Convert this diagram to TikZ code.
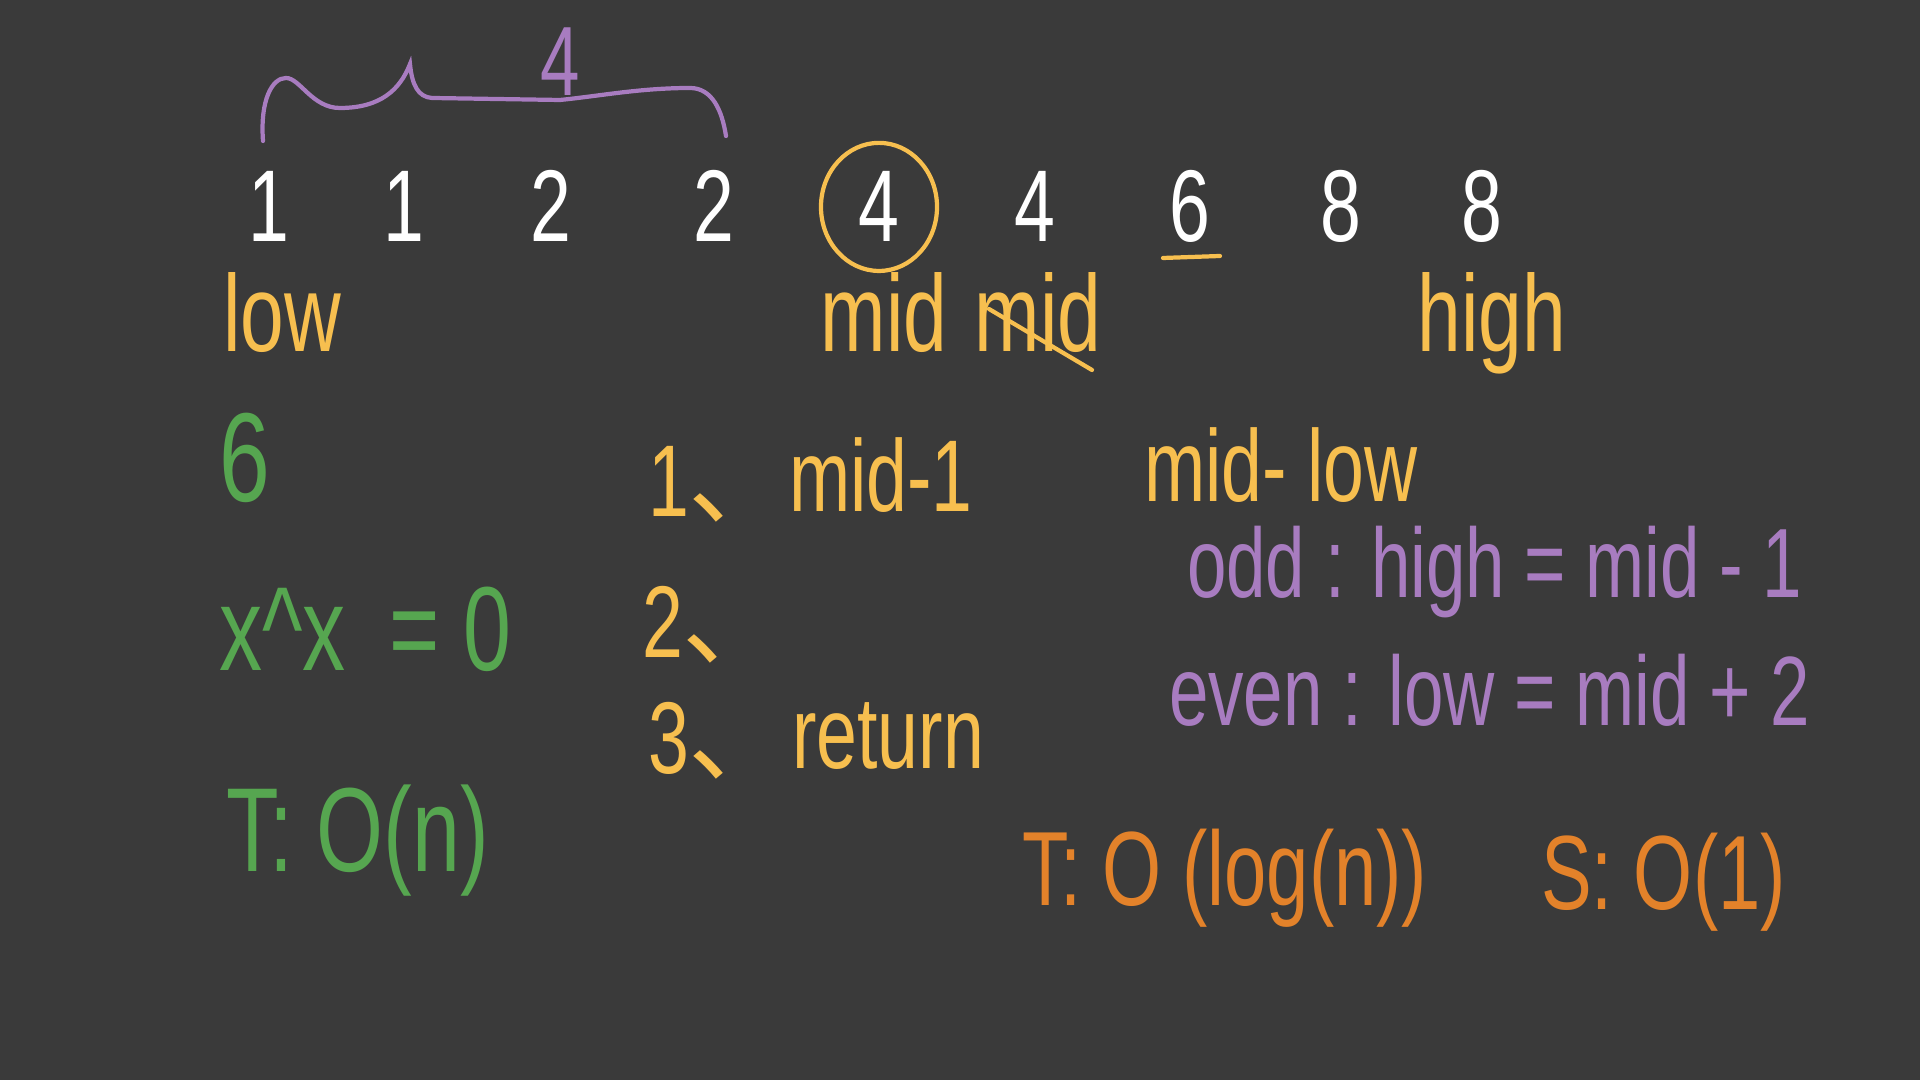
\documentclass[tikz,border=0pt]{standalone}
\usepackage{fontspec}
\setmainfont{Liberation Sans}[FakeStretch=0.72]
\newfontfamily\cjk{Noto Sans CJK SC}
\usetikzlibrary{calc}

\definecolor{board}{HTML}{3A3A3A}
\definecolor{ylw}{HTML}{F7BF4F}
\definecolor{purp}{HTML}{A87CC0}
\definecolor{grn}{HTML}{56A650}
\definecolor{org}{HTML}{E3822A}

\newcommand{\fs}[1]{\fontsize{#1}{#1}\selectfont}

\begin{document}
\begin{tikzpicture}[
    x=0.01cm, y=-0.01cm,
    line width=1.2pt, line cap=round,
    every node/.style={inner sep=0pt},
    numtxt/.style={text=white, font=\fs{29}, anchor=base},
    ptr/.style={text=ylw, font=\fs{31}, anchor=base},
    note/.style={font=\fs{29}, anchor=base west}
]

    % Board
    \fill[board] (0,0) rectangle (1920,1080);

    % Array
    \foreach \v [count=\i] in {1,1,2,2,4,4,6,8,8} {
        \pgfmathsetmacro{\px}{{269,404,551,714,879,1035,1190,1341,1482}[\i-1]}
        \node[numtxt] (n\i) at (\px,242) {\v};
    }

    % Brace over the first four
    \draw[purp] (263,141) .. controls (260,100) and (272,78) .. (286,78)
        .. controls (300,78) and (312,108) .. (340,108)
        .. controls (380,108) and (400,90) .. (410,64)
        .. controls (412,85) and (418,97) .. (432,98)
        -- (560,100)
        .. controls (600,96) and (640,88) .. (690,88)
        .. controls (712,88) and (722,110) .. (726,136);
    \node[text=purp, font=\fs{28}, anchor=base] (cnt) at (560,96) {4};

    % Marks on the array
    \draw[ylw] (n5.center) ellipse [x radius=0.58cm, y radius=0.64cm];
    \draw[ylw] ($(n7.base)+(-27,16)$) -- ($(n7.base)+(30,14)$);

    % Pointers
    \node[ptr] (low) at (282,352) {low};
    \node[ptr] (mid) at (884,352) {mid};
    \node[ptr] (mid2) at (1038,352) {mid};
    \draw[ylw] ($(mid2.base)+(-49,-43)$) -- ($(mid2.base)+(54,18)$);
    \node[ptr] (high) at (1492,352) {high};

    % Left column
    \node[text=grn, font=\fs{36}, anchor=base] (six) at (245,502) {6};
    \node[note, text=grn, font=\fs{34}] (xor) at (217,671) {x\textasciicircum x \,= 0};
    \node[note, text=grn, font=\fs{34}] (tn) at (224,872) {T: O(n)};

    % Steps
    \node[note, text=ylw] (s1) at (646,517) {1\cjk 、};
    \node[note, text=ylw] (s1b) at (787,512) {mid-1};
    \node[note, text=ylw] (s2) at (640,658) {2\cjk 、};
    \node[note, text=ylw] (s3) at (646,774) {3\cjk 、};
    \node[note, text=ylw] (s3b) at (790,769) {return};

    % Right column
    \node[note, text=ylw] (diff) at (1142,502) {mid- low};
    \node[note, text=purp, font=\fs{28}] (odd) at (1185,598) {odd : high = mid - 1};
    \node[note, text=purp, font=\fs{28}] (even) at (1167,726) {even : low = mid + 2};

    % Cost
    \node[note, text=org, font=\fs{30}] (tlog) at (1020,906) {T: O (log(n))};
    \node[note, text=org, font=\fs{30}] (sone) at (1539,910) {S: O(1)};

\end{tikzpicture}
\end{document}
